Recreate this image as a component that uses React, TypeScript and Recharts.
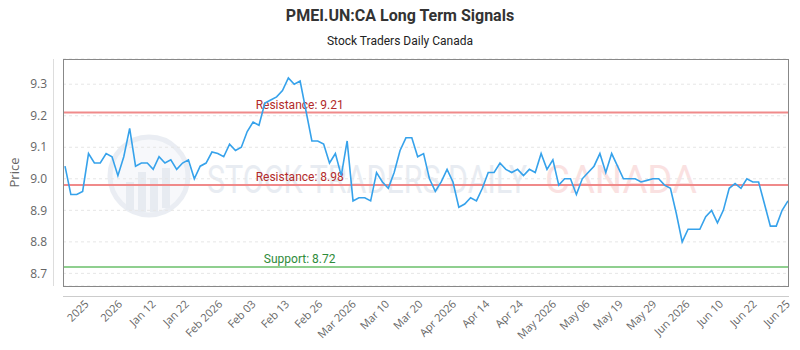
import React from "react";
import {
  CartesianGrid,
  Line,
  LineChart,
  ReferenceLine,
  XAxis,
  YAxis,
} from "recharts";

// Daily closing prices, oldest first
const prices = [
  9.04, 8.95, 8.95, 8.96, 9.08, 9.05, 9.05, 9.08, 9.07, 9.01,
  9.07, 9.16, 9.04, 9.05, 9.05, 9.03, 9.07, 9.05, 9.06, 9.03,
  9.05, 9.06, 9.0, 9.04, 9.05, 9.085, 9.08, 9.07, 9.11, 9.09,
  9.1, 9.15, 9.18, 9.17, 9.24, 9.25, 9.26, 9.28, 9.32, 9.3,
  9.31, 9.215, 9.12, 9.12, 9.11, 9.05, 9.08, 9.01, 9.12, 8.93,
  8.94, 8.94, 8.93, 9.02, 8.99, 8.97, 9.02, 9.09, 9.13, 9.13,
  9.07, 9.08, 9.0, 8.96, 8.99, 9.03, 8.99, 8.91, 8.92, 8.94,
  8.93, 8.97, 9.02, 9.02, 9.05, 9.03, 9.02, 9.03, 9.01, 9.03,
  9.02, 9.08, 9.03, 9.06, 8.98, 9.0, 9.0, 8.95, 9.0, 9.02,
  9.04, 9.08, 9.02, 9.08, 9.04, 9.0, 9.0, 9.0, 8.99, 8.995,
  9.0, 9.0, 8.98, 8.97, 8.89, 8.8, 8.84, 8.84, 8.84, 8.88,
  8.9, 8.86, 8.9, 8.97, 8.985, 8.97, 9.0, 8.99, 8.99, 8.92,
  8.85, 8.85, 8.9, 8.93,
];

const xTickLabels = [
  "2025", "2026", "Jan 12", "Jan 22", "Feb 2026", "Feb 03", "Feb 13",
  "Feb 26", "Mar 2026", "Mar 10", "Mar 20", "Apr 2026", "Apr 14", "Apr 24",
  "May 2026", "May 06", "May 19", "May 29", "Jun 2026", "Jun 10", "Jun 22",
  "Jun 25",
];

const yTicks = [8.7, 8.8, 8.9, 9.0, 9.1, 9.2, 9.3];
const resistanceLevels = [9.21, 8.98];
const supportLevel = 8.72;

const W = 800;
const H = 350;
const PLOT = { left: 63, top: 59, right: 789, bottom: 286 };

const data = prices.map((price, i) => ({ i, price }));
const lastIndex = prices.length - 1;
// labels are sampled roughly every 5.7 sessions, counted back from the last one
const TICK_STEP = 5.68;
const xTicks = xTickLabels.map(
  (_, j) => lastIndex - (xTickLabels.length - 1 - j) * TICK_STEP
);

const AXIS_FONT = "'Open Sans', sans-serif";
const LABEL_FONT = "Roboto, sans-serif";

function XTick({ x, index }: any) {
  const y = PLOT.bottom + 16;
  return (
    <text
      x={x}
      y={y}
      dy="0.35em"
      textAnchor="end"
      transform={`rotate(-45 ${x} ${y})`}
      fontSize={11}
      fontFamily={AXIS_FONT}
      fill="#666"
    >
      {xTickLabels[index]}
    </text>
  );
}

function YTick({ y, payload }: any) {
  return (
    <text
      x={47}
      y={y}
      dy="0.35em"
      textAnchor="end"
      fontSize={12}
      fontFamily={AXIS_FONT}
      fill="#666"
    >
      {Number(payload.value).toFixed(1)}
    </text>
  );
}

function levelLabel(text: string, color: string) {
  return ({ viewBox }: any) => (
    <text
      x={viewBox.x + viewBox.width * 0.326}
      y={viewBox.y - 4}
      textAnchor="middle"
      fontSize={12}
      fontFamily={LABEL_FONT}
      fill={color}
    >
      {text}
    </text>
  );
}

function Watermark() {
  return (
    <svg
      width={W}
      height={H}
      style={{ position: "absolute", left: 0, top: 0 }}
    >
      <g opacity={0.55}>
        <circle cx={149} cy={176} r={39} fill="#f1f4f8" stroke="#d9e0ea" strokeWidth={5} />
        <rect x={126} y={182} width={8} height={28} fill="#d5dce7" />
        <rect x={138} y={172} width={8} height={40} fill="#d5dce7" />
        <rect x={150} y={178} width={8} height={34} fill="#d5dce7" />
        <rect x={162} y={168} width={8} height={40} fill="#d5dce7" />
        <text
          x={207}
          y={193}
          fontSize={38}
          fontFamily={LABEL_FONT}
          fill="#d6dde8"
          textLength={320}
          lengthAdjust="spacingAndGlyphs"
        >
          STOCK TRADERS DAILY
        </text>
        <text
          x={545}
          y={193}
          fontSize={38}
          fontFamily={LABEL_FONT}
          fill="#f7c9c9"
          textLength={152}
          lengthAdjust="spacingAndGlyphs"
        >
          CANADA
        </text>
      </g>
    </svg>
  );
}

function Frame() {
  return (
    <svg
      width={W}
      height={H}
      style={{ position: "absolute", left: 0, top: 0, pointerEvents: "none" }}
    >
      <text
        x={W / 2}
        y={21}
        textAnchor="middle"
        fontSize={16}
        fontWeight={700}
        fontFamily={LABEL_FONT}
        fill="#333"
      >
        PMEI.UN:CA Long Term Signals
      </text>
      <text
        x={W / 2}
        y={45}
        textAnchor="middle"
        fontSize={12}
        fontFamily={LABEL_FONT}
        fill="#222"
      >
        Stock Traders Daily Canada
      </text>
      <text
        x={0}
        y={0}
        transform={`translate(19 ${(PLOT.top + PLOT.bottom) / 2}) rotate(-90)`}
        textAnchor="middle"
        fontSize={13}
        fontFamily={AXIS_FONT}
        fill="#666"
      >
        Price
      </text>
      <rect
        x={PLOT.left + 0.5}
        y={PLOT.top + 0.5}
        width={PLOT.right - PLOT.left - 1}
        height={PLOT.bottom - PLOT.top}
        fill="none"
        stroke="#888"
      />
      <line x1={PLOT.left} x2={PLOT.right} y1={PLOT.bottom + 10.5} y2={PLOT.bottom + 10.5} stroke="#ccc" />
      <line x1={PLOT.left - 9.5} x2={PLOT.left - 9.5} y1={PLOT.top} y2={PLOT.bottom} stroke="#ddd" />
    </svg>
  );
}

export default function App() {
  return (
    <div
      style={{
        position: "absolute",
        left: 0,
        top: 0,
        width: W,
        height: H,
        background: "#fff",
      }}
    >
      <Watermark />
      <div style={{ position: "absolute", left: 0, top: 0 }}>
        <LineChart
          width={W}
          height={H}
          data={data}
          margin={{ top: PLOT.top, right: W - PLOT.right, bottom: 0, left: 0 }}
        >
          <CartesianGrid
            vertical={false}
            stroke="#e6e6e6"
            strokeDasharray="3 3"
          />
          <XAxis
            dataKey="i"
            type="number"
            domain={[0, lastIndex]}
            ticks={xTicks}
            interval={0}
            tick={<XTick />}
            axisLine={false}
            tickLine={false}
            height={H - PLOT.bottom}
            padding={{ left: 2, right: 1 }}
          />
          <YAxis
            type="number"
            domain={[8.66, 9.38]}
            ticks={yTicks}
            tick={<YTick />}
            axisLine={false}
            tickLine={false}
            width={PLOT.left}
          />
          {resistanceLevels.map((v) => (
            <ReferenceLine
              key={v}
              y={v}
              stroke="#f08a8a"
              strokeWidth={2}
              label={levelLabel(`Resistance: ${v.toFixed(2)}`, "#b22a2a")}
            />
          ))}
          <ReferenceLine
            y={supportLevel}
            stroke="#8fcf8f"
            strokeWidth={2}
            label={levelLabel(`Support: ${supportLevel.toFixed(2)}`, "#2e8b3a")}
          />
          <Line
            type="linear"
            dataKey="price"
            stroke="#36a2eb"
            strokeWidth={1.6}
            dot={false}
            isAnimationActive={false}
          />
        </LineChart>
      </div>
      <Frame />
    </div>
  );
}
